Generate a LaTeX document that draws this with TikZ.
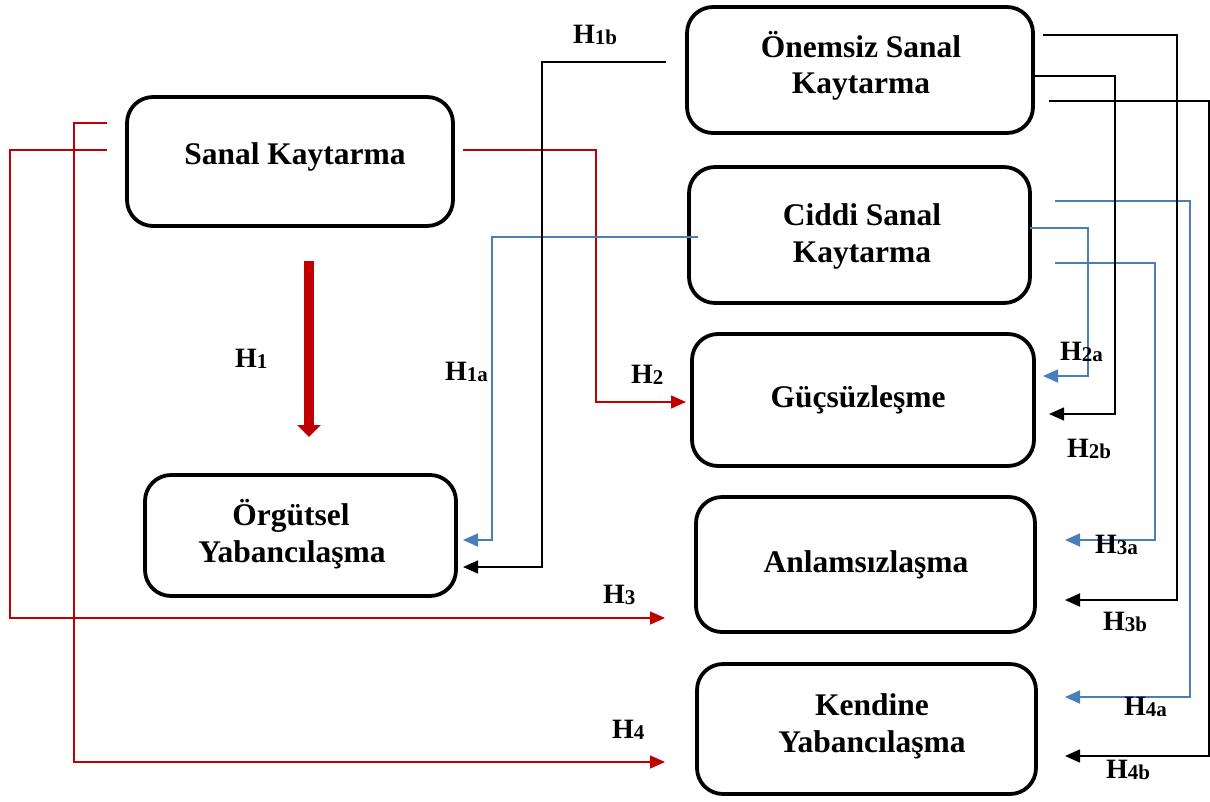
\documentclass[tikz,border=0pt]{standalone}
\usepackage{fontspec}
\setmainfont{Liberation Serif}
\usetikzlibrary{arrows.meta}
\definecolor{linkred}{HTML}{C00000}
\definecolor{linkblue}{HTML}{4A7EBB}
% hypothesis label: bold H with a small lowered index
\newcommand\hsub[1]{H\raisebox{-1.5pt}{\fontsize{21}{21}\selectfont #1}}
\begin{document}
\begin{tikzpicture}[x=1pt,y=-1pt,
  box/.style={draw, line width=3.8pt, rounded corners=26pt, inner sep=0pt, outer sep=0pt},
  ttl/.style={font=\fontsize{31.5}{37}\selectfont\bfseries, anchor=base, inner sep=0pt},
  hlbl/.style={font=\fontsize{28}{30}\selectfont\bfseries, anchor=base west, inner sep=0pt},
  tip/.style={-{Triangle[length=15pt,width=13pt]}},
  redln/.style={linkred, line width=1.5pt},
  blueln/.style={linkblue, line width=1.8pt},
  blackln/.style={black, line width=1.4pt},
]
\useasboundingbox (0,0) rectangle (1210,801);

% boxes
\node[box, minimum width=326pt, minimum height=129pt] (sk) at (290,161.5) {};
\node[box, minimum width=346pt, minimum height=126pt] (os) at (860,70) {};
\node[box, minimum width=341pt, minimum height=136pt] (cs) at (859.5,235) {};
\node[box, minimum width=342pt, minimum height=132pt] (gu) at (863,400) {};
\node[box, minimum width=339pt, minimum height=135pt] (an) at (865.5,564.5) {};
\node[box, minimum width=339pt, minimum height=130pt] (ke) at (866.5,729) {};
\node[box, minimum width=311pt, minimum height=121pt] (og) at (300.5,535.5) {};

% box titles
\node[ttl] (skt) at (295,164) {Sanal Kaytarma};
\node[ttl] (ost1) at (861,57) {Önemsiz Sanal};
\node[ttl] (ost2) at (861,93) {Kaytarma};
\node[ttl] (cst1) at (862,225) {Ciddi Sanal};
\node[ttl] (cst2) at (862,262) {Kaytarma};
\node[ttl] (gut) at (858,407) {Güçsüzleşme};
\node[ttl] (ant) at (866,572) {Anlamsızlaşma};
\node[ttl] (ket1) at (872,715) {Kendine};
\node[ttl] (ket2) at (872,752) {Yabancılaşma};
\node[ttl] (ogt1) at (291,525) {Örgütsel};
\node[ttl] (ogt2) at (292,562) {Yabancılaşma};

% main effect
\draw[linkred, line width=10pt, -{Triangle[length=12pt,width=23pt]}, shorten <=35pt, shorten >=38pt]
  (sk.south -| 309,0) -- (og.north -| 309,0);

% red paths from Sanal Kaytarma
\draw[redln, tip, shorten <=10pt, shorten >=6pt] (sk.east |- 0,150) -| (596,402) -- (gu.west |- 0,402);
\draw[redln, tip, shorten <=20pt, shorten >=31pt] (sk.west |- 0,150) -| (10,618) -- (an.west |- 0,618);
\draw[redln, tip, shorten <=20pt, shorten >=32pt] (sk.west |- 0,123) -| (74,762) -- (ke.west |- 0,762);

% blue paths from Ciddi Sanal Kaytarma
\draw[blueln, tip, shorten <=-9pt, shorten >=7pt] (cs.west |- 0,237) -| (492,540) -- (og.east |- 0,540);
\draw[blueln, tip, shorten >=9pt] (cs.east |- 0,228) -| (1088,376) -- (gu.east |- 0,376);
\draw[blueln, tip, shorten <=25pt, shorten >=30pt] (cs.east |- 0,263) -| (1155,540) -- (an.east |- 0,540);
\draw[blueln, tip, shorten <=25pt, shorten >=29pt] (cs.east |- 0,201) -| (1190,697) -- (ke.east |- 0,697);

% black paths from Önemsiz Sanal Kaytarma
\draw[blackln, tip, shorten <=21pt, shorten >=7pt] (os.west |- 0,62) -| (542,567) -- (og.east |- 0,567);
\draw[blackln, tip, shorten >=15pt] (os.east |- 0,76) -| (1115,414) -- (gu.east |- 0,414);
\draw[blackln, line width=2pt, tip, shorten <=10pt, shorten >=30pt] (os.east |- 0,35) -| (1177,600) -- (an.east |- 0,600);
\draw[blackln, tip, shorten <=16pt, shorten >=29pt] (os.east |- 0,101) -| (1209,756) -- (ke.east |- 0,756);

% hypothesis labels
\node[hlbl] (h1) at (235,367) {\hsub{1}};
\node[hlbl] (h1a) at (445,380) {\hsub{1a}};
\node[hlbl] (h1b) at (573,43) {\hsub{1b}};
\node[hlbl] (h2) at (631,383) {\hsub{2}};
\node[hlbl] (h2a) at (1060,360) {\hsub{2a}};
\node[hlbl] (h2b) at (1067,457) {\hsub{2b}};
\node[hlbl] (h3) at (603,603) {\hsub{3}};
\node[hlbl] (h3a) at (1095,553) {\hsub{3a}};
\node[hlbl] (h3b) at (1103,630) {\hsub{3b}};
\node[hlbl] (h4) at (612,738) {\hsub{4}};
\node[hlbl] (h4a) at (1124,715) {\hsub{4a}};
\node[hlbl] (h4b) at (1106,778) {\hsub{4b}};
\end{tikzpicture}
\end{document}
